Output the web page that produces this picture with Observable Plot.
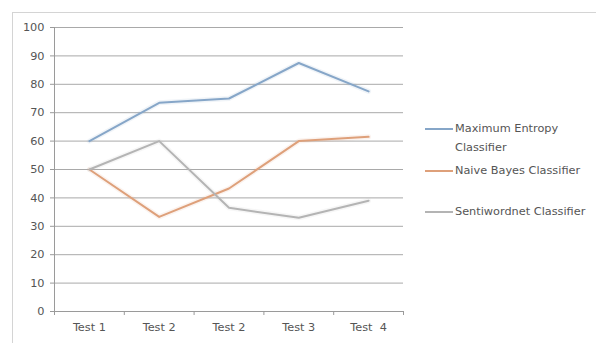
<!DOCTYPE html>
<html>
<head>
<meta charset="utf-8">
<script src="https://cdn.jsdelivr.net/npm/d3@7"></script>
<script src="https://cdn.jsdelivr.net/npm/@observablehq/plot@0.6"></script>
<style>
  html, body { margin: 0; padding: 0; background: #fff; }
  #wrap { position: relative; width: 596px; height: 343px; overflow: hidden; font-family: "DejaVu Sans", sans-serif; }
  #frame { position: absolute; left: 12px; top: 12px; width: 600px; height: 400px; border: 1px solid #d4d4d4; box-sizing: border-box; }
  #chart { position: absolute; left: 0; top: 0; }
  #legend { position: absolute; left: 425px; top: 119px; font-size: 11.3px; color: #555; }
  .item { position: absolute; left: 0; white-space: nowrap; }
  .sw { position: absolute; left: 0; width: 28px; height: 0; border-top: 2px solid; }
  .lbl { position: absolute; left: 30px; line-height: 19px; }
</style>
</head>
<body>
<div id="wrap">
  <div id="frame"></div>
  <div id="chart"></div>
  <div id="legend"></div>
</div>
<script>
const categories = ["Test 1", "Test 2", "Test 2", "Test 3", "Test  4"];
const seriesNames = ["Maximum Entropy Classifier", "Naive Bayes Classifier", "Sentiwordnet Classifier"];
const maxEntropy = [60, 73.5, 75, 87.5, 77.5];
const naiveBayes = [50, 33.3, 43.3, 60, 61.5];
const sentiwordnet = [50, 60, 36.5, 33, 39];
const yTicks = [0, 10, 20, 30, 40, 50, 60, 70, 80, 90, 100];
const colors = ["#86a6c8", "#dea07a", "#b4b4b4"];

const allSeries = [maxEntropy, naiveBayes, sentiwordnet];
const data = [];
allSeries.forEach((vals, s) => vals.forEach((v, i) => data.push({series: seriesNames[s], idx: i + 1, value: v})));
const centers = categories.map((_, i) => i + 1);
const bounds = d3.range(0.5, categories.length + 1, 1);

const chart = Plot.plot({
  width: 596,
  height: 343,
  marginLeft: 54,
  marginRight: 193,
  marginTop: 27,
  marginBottom: 32,
  style: {fontFamily: "DejaVu Sans, sans-serif", fontSize: "11.3px", color: "#555", background: "transparent"},
  x: {type: "linear", domain: [0.5, categories.length + 0.5]},
  y: {domain: [0, 100]},
  color: {domain: seriesNames, range: colors},
  marks: [
    Plot.ruleY(yTicks.filter(d => d > 0), {stroke: "#a9a9a9", strokeWidth: 1}),
    Plot.ruleY([0], {stroke: "#9a9a9a", strokeWidth: 1}),
    Plot.ruleX([0.5], {stroke: "#9a9a9a", strokeWidth: 1}),
    Plot.axisY({ticks: yTicks, tickSize: 4, tickPadding: 6, stroke: "#9a9a9a", label: null, fill: "#555"}),
    Plot.axisX({ticks: bounds, tickSize: 4, tickFormat: () => "", stroke: "#9a9a9a", label: null}),
    Plot.axisX({ticks: centers, tickSize: 0, tickPadding: 11, tickFormat: d => categories[d - 1], label: null, fill: "#555"}),
    Plot.line(data, {x: "idx", y: "value", z: "series", stroke: "series", strokeWidth: 5, strokeOpacity: 0.12}),
    Plot.line(data, {x: "idx", y: "value", z: "series", stroke: "series", strokeWidth: 2})
  ]
});
document.getElementById("chart").appendChild(chart);

const legend = document.getElementById("legend");
const tops = [0, 42, 83];
const lines = [["Maximum Entropy", "Classifier"], ["Naive Bayes Classifier"], ["Sentiwordnet Classifier"]];
seriesNames.forEach((name, i) => {
  const item = document.createElement("div");
  item.className = "item";
  item.style.top = tops[i] + "px";
  const sw = document.createElement("div");
  sw.className = "sw";
  sw.style.borderColor = colors[i];
  sw.style.top = "9px";
  const lbl = document.createElement("div");
  lbl.className = "lbl";
  lbl.style.top = "0px";
  lbl.innerHTML = lines[i].join("<br>");
  item.appendChild(sw);
  item.appendChild(lbl);
  legend.appendChild(item);
});
</script>
</body>
</html>
